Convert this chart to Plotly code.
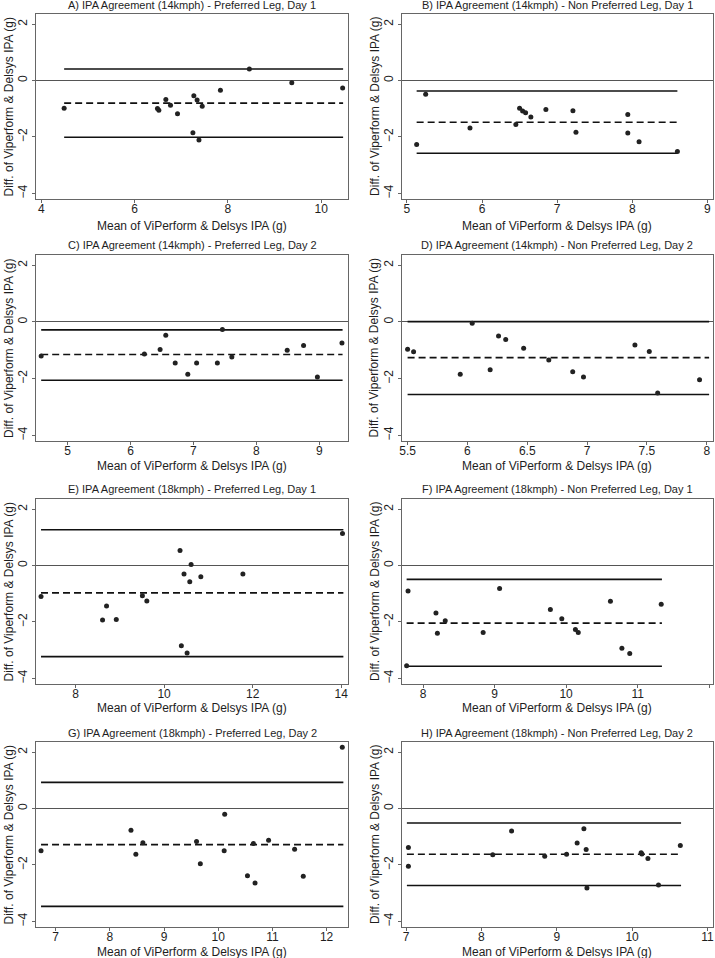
import plotly.graph_objects as go

# ---------------- data ----------------
titles = [
    "A) IPA Agreement (14kmph) - Preferred Leg, Day 1",
    "B) IPA Agreement (14kmph) - Non Preferred Leg, Day 1",
    "C) IPA Agreement (14kmph) - Preferred Leg, Day 2",
    "D) IPA Agreement (14kmph) - Non Preferred Leg, Day 2",
    "E) IPA Agreement (18kmph) - Preferred Leg, Day 1",
    "F) IPA Agreement (18kmph) - Non Preferred Leg, Day 1",
    "G) IPA Agreement (18kmph) - Preferred Leg, Day 2",
    "H) IPA Agreement (18kmph) - Non Preferred Leg, Day 2",
]
x_label = "Mean of ViPerform & Delsys IPA (g)"
y_label = "Diff. of Viperform & Delsys IPA (g)"

A_mean = [4.49, 6.49, 6.52, 6.67, 6.77, 6.92, 7.25, 7.27, 7.34, 7.38, 7.45, 7.84, 8.46, 9.37, 10.46]
A_diff = [-0.98, -0.99, -1.05, -0.67, -0.88, -1.18, -1.85, -0.54, -0.69, -2.11, -0.91, -0.34, 0.41, -0.08, -0.26]

B_mean = [5.13, 5.25, 5.84, 6.45, 6.50, 6.54, 6.58, 6.65, 6.85, 7.21, 7.25, 7.94, 7.94, 8.09, 8.60]
B_diff = [-2.27, -0.49, -1.68, -1.56, -0.98, -1.08, -1.14, -1.29, -1.03, -1.07, -1.83, -1.20, -1.86, -2.17, -2.52]

C_mean = [4.58, 6.22, 6.47, 6.56, 6.71, 6.91, 7.05, 7.38, 7.46, 7.61, 8.49, 8.75, 8.97, 9.36]
C_diff = [-1.20, -1.13, -0.97, -0.47, -1.45, -1.85, -1.45, -1.45, -0.27, -1.24, -1.00, -0.83, -1.94, -0.74]

D_mean = [5.50, 5.55, 5.94, 6.04, 6.19, 6.26, 6.32, 6.47, 6.68, 6.88, 6.97, 7.40, 7.52, 7.59, 7.94]
D_diff = [-0.96, -1.05, -1.85, -0.05, -1.69, -0.50, -0.62, -0.93, -1.34, -1.76, -1.94, -0.81, -1.04, -2.51, -2.04]

E_mean = [7.22, 8.70, 8.61, 8.92, 9.51, 9.61, 10.36, 10.39, 10.45, 10.52, 10.58, 10.61, 10.83, 11.78, 14.03]
E_diff = [-1.10, -1.43, -1.93, -1.91, -1.07, -1.26, 0.53, -2.84, -0.30, -3.10, -0.57, 0.04, -0.40, -0.30, 1.14]

F_mean = [7.77, 7.79, 8.18, 8.20, 8.31, 8.84, 9.07, 9.78, 9.94, 10.13, 10.17, 10.62, 10.78, 10.89, 11.33]
F_diff = [-3.55, -0.90, -1.68, -2.40, -1.96, -2.37, -0.81, -1.56, -1.89, -2.27, -2.37, -1.27, -2.93, -3.12, -1.37]

G_mean = [6.73, 8.39, 8.48, 8.61, 9.60, 9.67, 10.11, 10.12, 10.54, 10.65, 10.68, 10.93, 11.41, 11.57, 12.29]
G_diff = [-1.50, -0.77, -1.62, -1.21, -1.17, -1.96, -1.50, -0.20, -2.38, -1.24, -2.64, -1.12, -1.44, -2.40, 2.17]

H_mean = [7.03, 7.03, 8.15, 8.40, 8.84, 9.13, 9.27, 9.36, 9.39, 9.40, 10.12, 10.13, 10.21, 10.35, 10.64]
H_diff = [-1.38, -2.05, -1.64, -0.80, -1.69, -1.62, -1.22, -0.72, -1.45, -2.82, -1.57, -1.61, -1.77, -2.71, -1.31]

means = [A_mean, B_mean, C_mean, D_mean, E_mean, F_mean, G_mean, H_mean]
diffs = [A_diff, B_diff, C_diff, D_diff, E_diff, F_diff, G_diff, H_diff]

# Bland-Altman lines: bias and limits of agreement, plus their x extents
bias = [-0.80, -1.48, -1.15, -1.26, -0.97, -2.04, -1.28, -1.62]
upper_loa = [0.41, -0.37, -0.28, 0.01, 1.27, -0.49, 0.93, -0.51]
lower_loa = [-2.01, -2.58, -2.06, -2.56, -3.23, -3.57, -3.47, -2.73]
line_x_start = [4.49, 5.13, 4.58, 5.50, 7.22, 7.77, 6.73, 7.01]
line_x_end = [10.47, 8.60, 9.37, 8.02, 14.05, 11.34, 12.31, 10.65]

# axis ranges and tick values
x_ranges = [[3.89, 10.58], [4.93, 9.07], [4.50, 9.46], [5.45, 8.05],
            [7.11, 14.16], [7.70, 12.05], [6.64, 12.40], [6.94, 11.07]]
x_ticks = [[4, 6, 8, 10], [5, 6, 7, 8, 9], [5, 6, 7, 8, 9], [5.5, 6, 6.5, 7, 7.5, 8],
           [8, 10, 12, 14], [8, 9, 10, 11, 12], [7, 8, 9, 10, 11, 12], [7, 8, 9, 10, 11]]
y_range = [-4.2, 2.36]
y_ticks = [-4, -2, 0, 2]

# ---------------- layout geometry (pixels) ----------------
W, H = 715, 958
col_px = [(34.3, 347.7), (401.3, 713.7)]
row_px = [(14, 199), (255, 441), (499, 684), (742, 927)]
title_y_px = [5, 245, 489, 733]
xtitle_y_px = [226, 466, 708, 952]
ytitle_x_px = [7, 374]

def px_x(p):
    return p / W

def px_y(p):
    return 1 - p / H

fig = go.Figure()
FONT = "Liberation Sans, Arial, sans-serif"
TXT = "#1e1e1e"
annotations = []

for i in range(8):
    r, c = divmod(i, 2)
    k = i + 1
    xa = "x" if k == 1 else f"x{k}"
    ya = "y" if k == 1 else f"y{k}"
    xs, xe = line_x_start[i], line_x_end[i]

    # limits of agreement (solid)
    for val in (upper_loa[i], lower_loa[i]):
        fig.add_trace(go.Scatter(x=[xs, xe], y=[val, val], mode="lines",
                                 line=dict(color="#111111", width=1.6),
                                 xaxis=xa, yaxis=ya, showlegend=False, hoverinfo="skip"))
    # bias (dashed)
    fig.add_trace(go.Scatter(x=[xs, xe], y=[bias[i], bias[i]], mode="lines",
                             line=dict(color="#111111", width=1.6, dash="7px,4px"),
                             xaxis=xa, yaxis=ya, showlegend=False, hoverinfo="skip"))
    # points
    fig.add_trace(go.Scatter(x=means[i], y=diffs[i], mode="markers",
                             marker=dict(color="#222222", size=5),
                             xaxis=xa, yaxis=ya, showlegend=False))

    x0, x1 = col_px[c]
    y0, y1 = row_px[r]
    common = dict(showgrid=False, showline=True, mirror=True, linecolor="#666666",
                  linewidth=1, ticks="outside", ticklen=3, tickcolor="#666666",
                  tickfont=dict(family=FONT, size=12, color=TXT))
    fig.layout[("xaxis" if k == 1 else f"xaxis{k}")] = dict(
        domain=[px_x(x0), px_x(x1)], anchor=ya, range=x_ranges[i],
        tickvals=x_ticks[i], zeroline=False, ticklabelstandoff=-4, **common)
    fig.layout[("yaxis" if k == 1 else f"yaxis{k}")] = dict(
        domain=[px_y(y1), px_y(y0)], anchor=xa, range=y_range,
        tickvals=y_ticks, tickangle=-90, zeroline=True, zerolinecolor="#555555",
        zerolinewidth=1, **common)

    cx = (x0 + x1) / 2
    annotations.append(dict(text=titles[i], x=px_x(cx), y=px_y(title_y_px[r]),
                            xref="paper", yref="paper", showarrow=False,
                            xanchor="center", yanchor="middle",
                            font=dict(family=FONT, size=11, color=TXT)))
    annotations.append(dict(text=x_label, x=px_x(cx), y=px_y(xtitle_y_px[r]),
                            xref="paper", yref="paper", showarrow=False,
                            xanchor="center", yanchor="middle",
                            font=dict(family=FONT, size=12, color=TXT)))
    annotations.append(dict(text=y_label, x=px_x(ytitle_x_px[c]),
                            y=px_y((y0 + y1) / 2), xref="paper", yref="paper",
                            showarrow=False, textangle=-90,
                            xanchor="center", yanchor="middle",
                            font=dict(family=FONT, size=12, color=TXT)))

fig.update_layout(width=W, height=H, margin=dict(l=0, r=0, t=0, b=0),
                  paper_bgcolor="white", plot_bgcolor="white",
                  annotations=annotations, showlegend=False)

fig.write_html("out.html", config={"displayModeBar": False},
               post_script="document.body.style.margin='0';document.body.style.overflow='hidden';")
